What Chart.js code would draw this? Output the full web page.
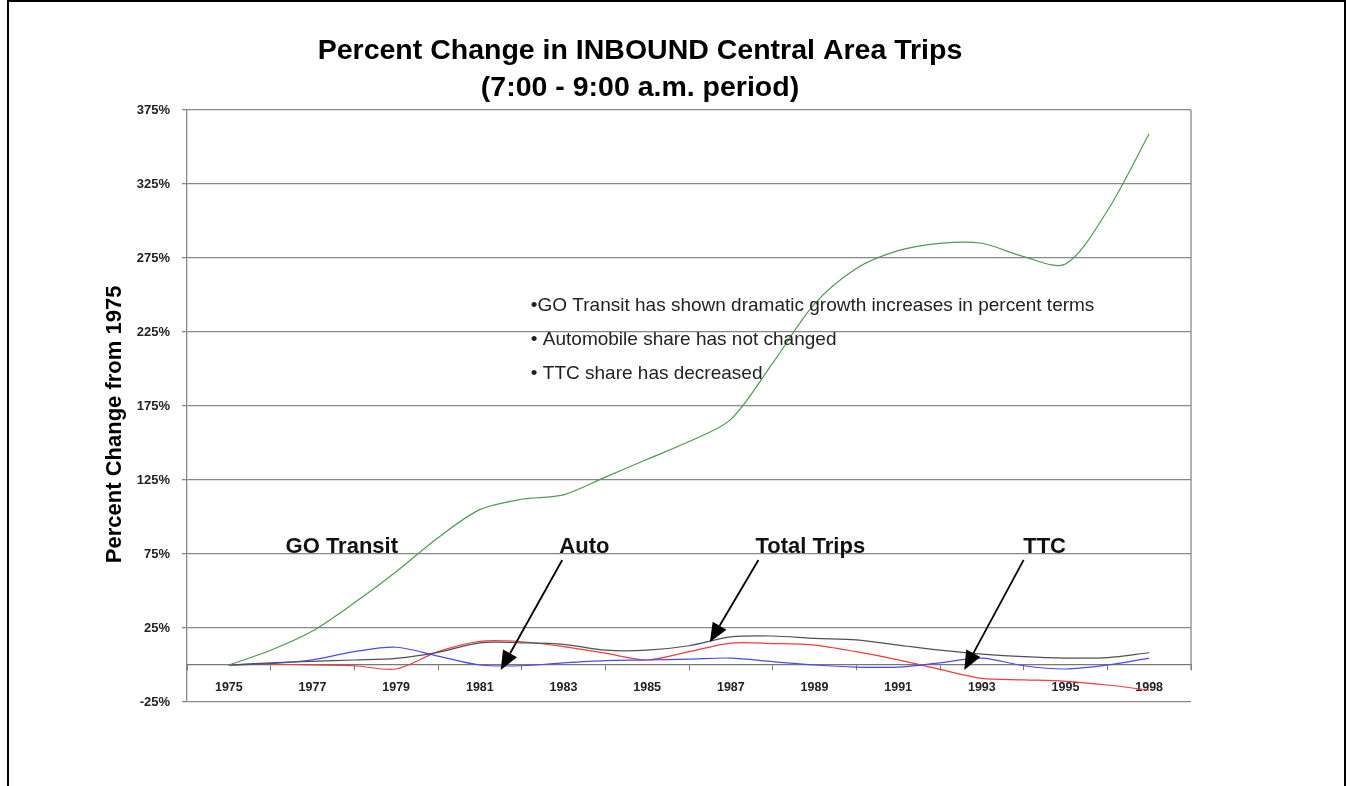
<!doctype html>
<html lang="en">
<head>
  <meta charset="utf-8">
  <title>Percent Change in INBOUND Central Area Trips</title>
  <style>
    html,body{
      width:100%;
      height:100%;
      margin:0;
      padding:0;overflow:hidden;
      background:#fff;
    }
    .frame{
      position:absolute;
      left:7px; top:0;
      width:1335px; height:900px;
      border:2px solid #000;
    }
    #chart0{
      position:absolute;
      left:0; top:0;
    }
  </style>
</head>
<body>
  <div class="frame"></div>
  <canvas id="chart0" width="1353" height="786"></canvas>

  <script src="https://cdn.jsdelivr.net/npm/chart.js@4/dist/chart.umd.min.js"></script>
  <script>
    // 1997 is not in the data, 1998 follows 1996 directly
    var years = ['1975','1976','1977','1978','1979','1980','1981','1982','1983','1984','1985',
                 '1986','1987','1988','1989','1990','1991','1992','1993','1994','1995','1996','1998'];
    var goTransit = [0, 10, 23, 42, 63, 86, 105, 112, 115, 127, 139, 151, 166, 204, 244, 268, 280, 285, 285, 276, 271, 307, 359];
    var auto = [0, 1, 3.5, 9, 12, 6, 0, -0.5, 1.5, 3, 3.4, 4, 4.7, 2.3, 0, -1.4, -1.4, 1.5, 4.7, -0.5, -2.7, 0, 4.7];
    var totalTrips = [0, 1.5, 2.5, 3.4, 4.5, 8.5, 15, 15, 14, 10, 10, 13, 19, 19.6, 18, 17, 13.5, 10, 7.4, 5.6, 4.7, 5, 8.3];
    var ttc = [0, 0.5, 0, -0.5, -2.7, 9, 16, 15.7, 12.4, 8, 3.4, 9, 14.8, 14.5, 13.5, 9, 3.5, -3, -9, -10, -11, -13.5, -17];
    var yTicks = [-25, 25, 75, 125, 175, 225, 275, 325, 375];

    // text on the plot, placed in data units (x = year index, y = percent)
    var lineLabels = [
      {text: 'GO Transit', x: 2.7, y: 80},
      {text: 'Auto', x: 8.5, y: 80},
      {text: 'Total Trips', x: 13.9, y: 80},
      {text: 'TTC', x: 19.5, y: 80}
    ];
    var arrows = [
      {x1: 7.97, y1: 71, x2: 6.5, y2: -3.4},
      {x1: 12.66, y1: 71, x2: 11.5, y2: 15.5},
      {x1: 19.0, y1: 71, x2: 17.58, y2: -3.4}
    ];
    var bullets = [
      {text: '\u2022GO Transit has shown dramatic growth increases in percent terms', x: 7.22, y: 243},
      {text: '\u2022 Automobile share has not changed', x: 7.22, y: 220},
      {text: '\u2022 TTC share has decreased', x: 7.22, y: 197}
    ];

    var FONT = "'Liberation Sans', Arial, sans-serif";

    function pts(arr){
      return arr.map(function(v, i){ return {x: i, y: v}; });
    }

    var overlay = {
      id: 'overlay',
      afterDatasetsDraw: function(chart){
        var ctx = chart.ctx, xs = chart.scales.x, ys = chart.scales.y, a = chart.chartArea;
        ctx.save();
        // right edge of the plot box
        ctx.strokeStyle = '#888';
        ctx.lineWidth = 1.3;
        ctx.beginPath();
        ctx.moveTo(a.right, a.top);
        ctx.lineTo(a.right, ys.getPixelForValue(0) + 5);
        ctx.stroke();

        ctx.fillStyle = '#111';
        ctx.textBaseline = 'middle';
        ctx.textAlign = 'center';
        ctx.font = 'bold 22px ' + FONT;
        lineLabels.forEach(function(l){
          ctx.fillText(l.text, xs.getPixelForValue(l.x), ys.getPixelForValue(l.y));
        });

        ctx.strokeStyle = '#000';
        ctx.fillStyle = '#000';
        ctx.lineWidth = 1.8;
        arrows.forEach(function(ar){
          var x1 = xs.getPixelForValue(ar.x1), y1 = ys.getPixelForValue(ar.y1);
          var x2 = xs.getPixelForValue(ar.x2), y2 = ys.getPixelForValue(ar.y2);
          var ang = Math.atan2(y2 - y1, x2 - x1), len = 19, half = 8;
          var bx = x2 - len * Math.cos(ang), by = y2 - len * Math.sin(ang);
          ctx.beginPath();
          ctx.moveTo(x1, y1);
          ctx.lineTo(bx, by);
          ctx.stroke();
          ctx.beginPath();
          ctx.moveTo(x2, y2);
          ctx.lineTo(bx + half * Math.sin(ang), by - half * Math.cos(ang));
          ctx.lineTo(bx - half * Math.sin(ang), by + half * Math.cos(ang));
          ctx.closePath();
          ctx.fill();
        });

        ctx.fillStyle = '#222';
        ctx.textAlign = 'left';
        ctx.font = '19px ' + FONT;
        bullets.forEach(function(b){
          ctx.fillText(b.text, xs.getPixelForValue(b.x), ys.getPixelForValue(b.y));
        });
        ctx.restore();
      }
    };

    var ctx = document.getElementById('chart0').getContext('2d');
    var myChart = new Chart(ctx, {
      type: 'line',
      data: {
        datasets: [
          {label: 'GO Transit', data: pts(goTransit), borderColor: '#4f9a4f'},
          {label: 'Total Trips', data: pts(totalTrips), borderColor: '#505050'},
          {label: 'Auto', data: pts(auto), borderColor: '#4a4af0'},
          {label: 'TTC', data: pts(ttc), borderColor: '#f03c3c'}
        ]
      },
      options: {
        responsive: false,
        animation: false,
        elements: {
          line: {borderWidth: 1.2, tension: 0.3, fill: false},
          point: {radius: 0}
        },
        layout: {
          padding: {left: 89, right: 162, top: 33, bottom: 84}
        },
        plugins: {
          legend: {display: false},
          tooltip: {enabled: false},
          title: {
            display: true,
            text: ['Percent Change in INBOUND Central Area Trips', '(7:00 - 9:00 a.m. period)'],
            color: '#000',
            font: {family: FONT, size: 28.5, weight: 'bold', lineHeight: 1.3},
            padding: {top: 0, bottom: 3}
          }
        },
        scales: {
          x: {
            type: 'linear',
            position: {y: 0},
            min: -1,
            max: years.length,
            afterBuildTicks: function(scale){
              var t = [];
              for (var i = -1; i <= years.length; i++) t.push({value: i});
              scale.ticks = t;
            },
            grid: {
              drawOnChartArea: false,
              tickLength: 5,
              tickColor: function(c){
                return (c.tick && Math.abs(c.tick.value % 2) === 1) ? '#777' : 'rgba(0,0,0,0)';
              }
            },
            border: {color: '#777', width: 1.3},
            ticks: {
              autoSkip: false,
              maxRotation: 0,
              padding: 10,
              color: '#222',
              font: {family: FONT, size: 12.5, weight: 'bold'},
              callback: function(v){
                return (v >= 0 && v % 2 === 0) ? years[v] : '';
              }
            }
          },
          y: {
            min: -25,
            max: 375,
            afterBuildTicks: function(scale){
              scale.ticks = yTicks.map(function(v){ return {value: v}; });
            },
            afterFit: function(scale){
              scale.width = 98;
            },
            grid: {color: '#888', lineWidth: 1.3, tickLength: 5},
            border: {color: '#888', width: 1.3},
            ticks: {
              padding: 12,
              color: '#222',
              font: {family: FONT, size: 13, weight: 'bold'},
              callback: function(v){ return v + '%'; }
            },
            title: {
              display: true,
              text: 'Percent Change from 1975      ',
              color: '#000',
              font: {family: FONT, size: 22, weight: 'bold'},
              padding: {top: 13, bottom: 0}
            }
          }
        }
      },
      plugins: [overlay]
    });
  </script>
</body>
</html>
